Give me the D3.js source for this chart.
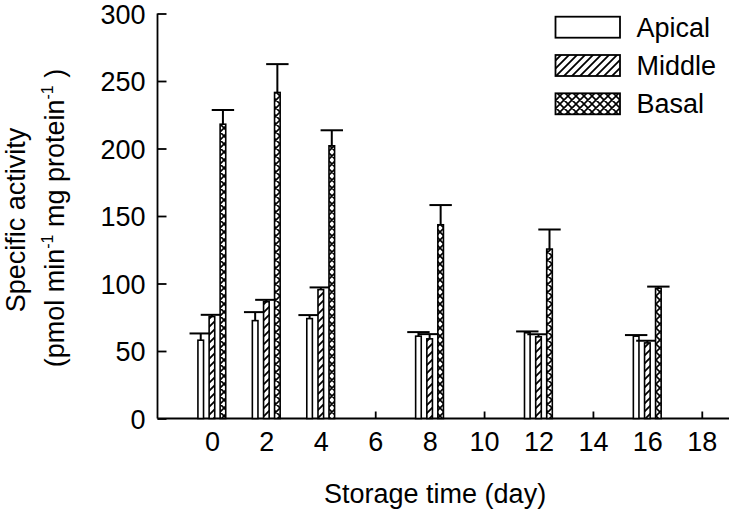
<!DOCTYPE html>
<html>
<head>
<meta charset="utf-8">
<script src="https://cdn.jsdelivr.net/npm/d3@7"></script>
<style>
  html, body { margin: 0; padding: 0; background: #fff; }
  svg { display: block; }
  text { font-family: "Liberation Sans", Arial, sans-serif; fill: #000; }
</style>
</head>
<body>
<svg id="chart" width="733" height="530"></svg>
<script>
// ---- data ----
const days        = [0, 2, 4, 8, 12, 16];
const xTickValues = [0, 2, 4, 6, 8, 10, 12, 14, 16, 18];
const yTickValues = [0, 50, 100, 150, 200, 250, 300];
const seriesNames = ["Apical", "Middle", "Basal"];
const apical      = [58, 72.5, 74, 61, 63.5, 61];
const apicalErr   = [5, 6.3, 2.6, 3, 1, 0.8];
const middle      = [75.5, 86.5, 95.5, 59, 60.5, 56];
const middleErr   = [1.3, 1.4, 1.6, 3.5, 1.9, 1.6];
const basal       = [218, 241.5, 202, 143.5, 125.5, 96.5];
const basalErr    = [10.5, 21, 11.5, 14.6, 14.5, 1.2];

const svg = d3.select("#chart");
const FONT = 27;

const x = d3.scaleLinear().domain([-2, 19]).range([157.5, 729]);
const y = d3.scaleLinear().domain([0, 300]).range([418.5, 13.5]);

// patterns
const defs = svg.append("defs");
const hatch = defs.append("pattern").attr("id", "hatch")
  .attr("patternUnits", "userSpaceOnUse").attr("width", 8).attr("height", 8);
hatch.append("rect").attr("width", 8).attr("height", 8).attr("fill", "#fff");
hatch.append("path").attr("d", "M-2,2 L2,-2 M0,8 L8,0 M6,10 L10,6")
  .attr("stroke", "#000").attr("stroke-width", 1.8);
const cross = defs.append("pattern").attr("id", "cross")
  .attr("patternUnits", "userSpaceOnUse").attr("width", 8).attr("height", 8);
cross.append("rect").attr("width", 8).attr("height", 8).attr("fill", "#fff");
cross.append("path").attr("d", "M-2,2 L2,-2 M0,8 L8,0 M6,10 L10,6 M-2,6 L2,10 M0,0 L8,8 M6,-2 L10,2")
  .attr("stroke", "#000").attr("stroke-width", 1.6);

const fills = ["#fff", "url(#hatch)", "url(#cross)"];
const values = [apical, middle, basal];
const errs = [apicalErr, middleErr, basalErr];

// axes
const xAxis = d3.axisBottom(x).tickValues(xTickValues).tickSize(-7).tickPadding(13)
  .tickFormat(d3.format("d"));
const gx = svg.append("g").attr("transform", `translate(0,${y(0)})`).call(xAxis);
gx.select(".domain").attr("d", `M${x(-2)},0H${x(19)}`);
const yAxis = d3.axisLeft(y).tickValues(yTickValues).tickSize(-9).tickPadding(12);
const gy = svg.append("g").attr("transform", `translate(${x(-2)},0)`).call(yAxis);
gy.select(".domain").attr("d", `M0,${y(300)}V${y(0)}`);
[gx, gy].forEach(g => {
  g.selectAll("path, line").attr("stroke", "#000").attr("stroke-width", 1.8);
  g.selectAll("text").attr("font-size", FONT).attr("font-family", "Liberation Sans, Arial, sans-serif").attr("fill", "#000");
});
gx.selectAll("text").attr("dy", "0.71em");
gy.selectAll("text").attr("dy", "0.36em");

// bars
const offsets = [-11.2, 0, 11.0];
const barW = 5.6;
const capHalf = 11.2;
const gBars = svg.append("g");
days.forEach((d, i) => {
  for (let s = 0; s < 3; s++) {
    const cx = x(d) + offsets[s];
    const v = values[s][i], e = errs[s][i];
    gBars.append("line")
      .attr("x1", cx).attr("x2", cx).attr("y1", y(v)).attr("y2", y(v + e))
      .attr("stroke", "#000").attr("stroke-width", 2);
    gBars.append("line")
      .attr("x1", cx - capHalf).attr("x2", cx + capHalf).attr("y1", y(v + e)).attr("y2", y(v + e))
      .attr("stroke", "#000").attr("stroke-width", 2);
    gBars.append("rect")
      .attr("x", cx - barW / 2).attr("width", barW)
      .attr("y", y(v)).attr("height", y(0) - y(v))
      .attr("fill", fills[s]).attr("stroke", "#000").attr("stroke-width", 1.6);
  }
});

// legend
const lg = svg.append("g");
seriesNames.forEach((n, i) => {
  const top = 16.7 + i * 38.3;
  lg.append("rect").attr("x", 555.5).attr("y", top).attr("width", 64.5).attr("height", 21)
    .attr("fill", fills[i]).attr("stroke", "#000").attr("stroke-width", 1.8);
  lg.append("text").attr("x", 636.5).attr("y", top + 20).attr("font-size", FONT).text(n);
});

// axis titles
svg.append("text").attr("x", x(8.2)).attr("y", 503).attr("text-anchor", "middle")
  .attr("font-size", FONT).text("Storage time (day)");
svg.append("text").attr("transform", "translate(24.5,220) rotate(-90)")
  .attr("text-anchor", "middle").attr("font-size", FONT).text("Specific activity");
const t2 = svg.append("text").attr("transform", "translate(64,218) rotate(-90)")
  .attr("text-anchor", "middle").attr("font-size", FONT);
t2.append("tspan").text("(pmol min");
t2.append("tspan").attr("font-size", 16).attr("dy", -11).text("-1");
t2.append("tspan").attr("dy", 11).text(" mg protein");
t2.append("tspan").attr("font-size", 16).attr("dy", -11).text("-1");
t2.append("tspan").attr("dy", 11).text(" )");
</script>
</body>
</html>
